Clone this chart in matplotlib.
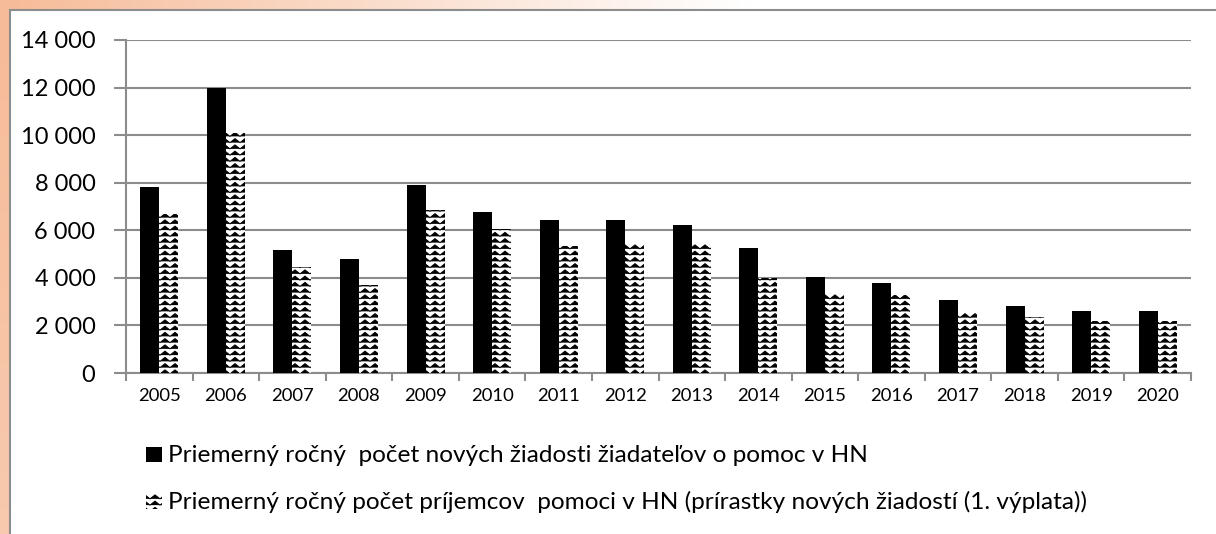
import warnings
warnings.filterwarnings("ignore")
import numpy as np
import matplotlib
matplotlib.use("Agg")
import matplotlib.pyplot as plt
import matplotlib.hatch as mhatch
from matplotlib.path import Path
from matplotlib.patches import Rectangle
from matplotlib.ticker import FuncFormatter, FixedLocator

# ---------------- data ----------------
years = ["2005", "2006", "2007", "2008", "2009", "2010", "2011", "2012",
         "2013", "2014", "2015", "2016", "2017", "2018", "2019", "2020"]
applicants = [7800, 11970, 5190, 4790, 7900, 6760, 6420, 6430,
              6210, 5240, 4040, 3780, 3070, 2830, 2610, 2610]
recipients = [6690, 10100, 4440, 3690, 6850, 6040, 5340, 5420,
              5480, 3980, 3350, 3280, 2580, 2370, 2190, 2190]
label_applicants = "Priemerný ročný  počet nových žiadosti žiadateľov o pomoc v HN"
label_recipients = "Priemerný ročný počet príjemcov  pomoci v HN (prírastky nových žiadostí (1. výplata))"
yticks = [0, 2000, 4000, 6000, 8000, 10000, 12000, 14000]


# ---------------- custom wave hatch ----------------
class WaveHatch(mhatch.HatchPatternBase):
    def __init__(self, hatch, density):
        self.on = '~' in hatch
        self.nx = 10
        self.ny = 16
        self.pts = 2 * self.nx + 1
        self.num_vertices = self.ny * self.pts if self.on else 0

    def set_vertices_and_codes(self, vertices, codes):
        amp = 0.04
        k = 0
        for r in range(self.ny):
            y0 = (r + 0.5) / self.ny
            for j in range(self.pts):
                xx = j / (2 * self.nx)
                yv = y0 + (amp / 2 if j % 2 else -amp / 2)
                vertices[k] = (xx, yv)
                codes[k] = Path.MOVETO if j == 0 else Path.LINETO
                k += 1


mhatch._hatch_types.append(WaveHatch)
plt.rcParams['hatch.linewidth'] = 0.7

plt.rcParams['font.family'] = ['Lato', 'DejaVu Sans']

W, H = 1216, 534
fig = plt.figure(figsize=(W / 100, H / 100), dpi=100)

# background gradient (orange, fading from top-left) + white chart frame
bg = fig.add_axes([0, 0, 1, 1], zorder=-10)
yy, xx = np.mgrid[0:H, 0:W]
d = np.clip(np.sqrt((xx / 750.0) ** 2 + (yy / 2500.0) ** 2), 0, 1)
t = np.clip(0.12 + 0.88 * d, 0, 1)
orange = np.array([245, 178, 138]) / 255.0
white = np.array([1.0, 1.0, 1.0])
img = orange[None, None, :] * (1 - t[..., None]) + white[None, None, :] * t[..., None]
bg.imshow(img, extent=[0, W, H, 0], aspect='auto')
bg.add_patch(Rectangle((10, 10), W + 20, H + 20, facecolor='white',
                       edgecolor='#8c8c8c', linewidth=1.5))
bg.set_xlim(0, W)
bg.set_ylim(H, 0)
bg.axis('off')

# main axes
x0, x1 = 126, 1191
ytop, ybot = 40, 373
ax = fig.add_axes([x0 / W, (H - ybot) / H, (x1 - x0) / W, (ybot - ytop) / H])
ax.set_facecolor('none')

x = np.arange(len(years))
w = 0.285
ax.bar(x - w / 2, applicants, w, color='black', linewidth=0, zorder=3)
ax.bar(x + w / 2, recipients, w, color='white', edgecolor='black', hatch='~',
       linewidth=0, zorder=3)

ax.set_xlim(-0.5, len(years) - 0.5)
ax.set_ylim(0, 14000)

grid_c = '#8c8c8c'
ax.yaxis.set_major_locator(FixedLocator(yticks))
ax.yaxis.set_major_formatter(FuncFormatter(lambda v, p: f"{int(v):,}".replace(",", " ")))
ax.grid(axis='y', color=grid_c, linewidth=1.5, zorder=0)
ax.set_axisbelow(True)

ax.xaxis.set_major_locator(FixedLocator(np.arange(-0.5, len(years), 1.0)))
ax.xaxis.set_major_formatter(FuncFormatter(lambda v, p: ""))
ax.set_xticks(x, minor=True)
ax.set_xticklabels(years, minor=True, fontsize=13.3)
ax.tick_params(axis='x', which='minor', length=0, pad=11)
ax.tick_params(axis='x', which='major', length=6, width=1.5, color=grid_c)
ax.tick_params(axis='y', length=9, width=1.5, color=grid_c, labelsize=17, pad=13)

for s in ['top', 'right']:
    ax.spines[s].set_visible(False)
for s in ['left', 'bottom']:
    ax.spines[s].set_color(grid_c)
    ax.spines[s].set_linewidth(1.5)

# legend (drawn in pixel coordinates of the background axes)
leg_items = [(label_applicants, dict(facecolor='black', edgecolor='black', linewidth=0), 447),
             (label_recipients, dict(facecolor='white', edgecolor='black', hatch='~', linewidth=0), 494)]
for lbl, style, ytop_px in leg_items:
    bg.add_patch(Rectangle((146, ytop_px), 16, 15, **style))
    bg.text(168, ytop_px + 15, lbl, fontsize=17.6, va='baseline', ha='left', color='black')

fig.savefig("out.png", dpi=100)
